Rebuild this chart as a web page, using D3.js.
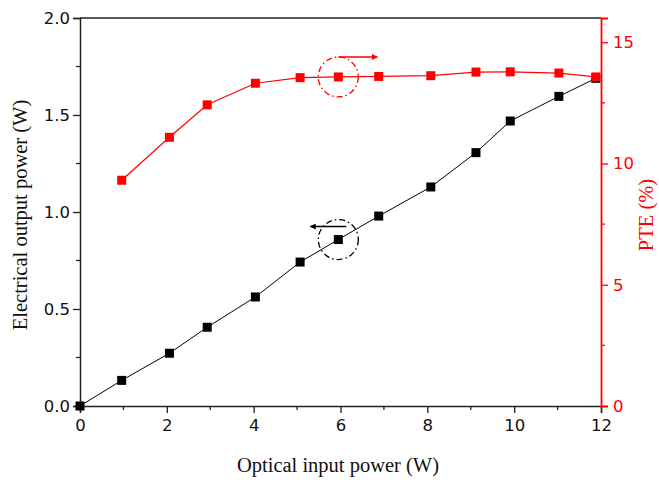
<!DOCTYPE html>
<html>
<head>
<meta charset="utf-8">
<script src="https://cdn.jsdelivr.net/npm/d3@7"></script>
<style>
  html, body { margin: 0; padding: 0; background: #fff; }
  svg { display: block; }
</style>
</head>
<body>
<svg id="chart" width="659" height="480"></svg>
<script>
// ---- data ----
const inputPower = [0.96, 2.06, 2.93, 4.04, 5.07, 5.95, 6.88, 8.08, 9.12, 9.91, 11.03, 11.88];
const outputX = [0, 0.96, 2.06, 2.93, 4.04, 5.07, 5.95, 6.88, 8.08, 9.12, 9.91, 11.03, 11.88];
const outputPower = [0, 0.132, 0.272, 0.406, 0.562, 0.742, 0.858, 0.979, 1.129, 1.306, 1.469, 1.596, 1.689];
const pteValues = [9.31, 11.08, 12.42, 13.31, 13.54, 13.57, 13.59, 13.62, 13.77, 13.78, 13.73, 13.57];
const xTicks = [0, 2, 4, 6, 8, 10, 12];
const xMinor = [1, 3, 5, 7, 9, 11];
const yLeftTicks = [0, 0.5, 1.0, 1.5, 2.0];
const yLeftMinor = [0.25, 0.75, 1.25, 1.75];
const yRightTicks = [0, 5, 10, 15];
const yRightMinor = [2.5, 7.5, 12.5];

// ---- layout ----
const L = 80, R = 601, T = 18, B = 406;
const svg = d3.select("#chart");
const x = d3.scaleLinear().domain([0, 12]).range([L, R]);
const yL = d3.scaleLinear().domain([0, 2]).range([B, T]);
const yR = d3.scaleLinear().domain([0, 16]).range([B, T]);

const tickFont = "'DejaVu Sans', sans-serif";
const titleFont = "'Liberation Serif', 'Times New Roman', serif";
const RED = "#ff0000";

// top border
svg.append("line").attr("x1", L).attr("x2", R).attr("y1", T).attr("y2", T)
  .attr("stroke", "#222").attr("stroke-width", 1.5);

// bottom axis
const gx = svg.append("g").attr("transform", `translate(0,${B})`)
  .call(d3.axisBottom(x).tickValues(xTicks).tickFormat(d3.format("d")).tickSize(7).tickPadding(6));
gx.append("g").selectAll("line").data(xMinor).join("line")
  .attr("x1", d => x(d)).attr("x2", d => x(d)).attr("y1", 0).attr("y2", 4)
  .attr("stroke", "#222").attr("stroke-width", 1.3);

// left axis
const gy = svg.append("g").attr("transform", `translate(${L},0)`)
  .call(d3.axisLeft(yL).tickValues(yLeftTicks).tickFormat(d3.format(".1f")).tickSize(7).tickPadding(3));
gy.append("g").selectAll("line").data(yLeftMinor).join("line")
  .attr("x1", 0).attr("x2", -4).attr("y1", d => yL(d)).attr("y2", d => yL(d))
  .attr("stroke", "#222").attr("stroke-width", 1.3);

[gx, gy].forEach(g => {
  g.select(".domain").attr("stroke", "#222").attr("stroke-width", 1.5);
  g.selectAll(".tick line").attr("stroke", "#222").attr("stroke-width", 1.3);
  g.selectAll(".tick text").attr("font-family", tickFont).attr("font-size", 16.5).attr("fill", "#111");
});

// right axis
const gr = svg.append("g").attr("transform", `translate(${R},0)`)
  .call(d3.axisRight(yR).tickValues(yRightTicks).tickFormat(d3.format("d")).tickSize(7).tickPadding(5));
gr.append("g").selectAll("line").data(yRightMinor).join("line")
  .attr("x1", 0).attr("x2", 4).attr("y1", d => yR(d)).attr("y2", d => yR(d))
  .attr("stroke", RED).attr("stroke-width", 1.3);
gr.select(".domain").attr("stroke", RED).attr("stroke-width", 1.8);
gr.selectAll(".tick line").attr("stroke", RED).attr("stroke-width", 1.3);
gr.selectAll(".tick text").attr("font-family", tickFont).attr("font-size", 16.5).attr("fill", RED);

// titles
svg.append("text").attr("x", 338).attr("y", 472)
  .attr("text-anchor", "middle").attr("font-family", titleFont).attr("font-size", 20.5).attr("fill", "#111")
  .text("Optical input power (W)");
svg.append("text").attr("transform", `translate(27,${(T + B) / 2 + 3}) rotate(-90)`)
  .attr("text-anchor", "middle").attr("font-family", titleFont).attr("font-size", 20.5).attr("fill", "#111")
  .text("Electrical output power (W)");
svg.append("text").attr("transform", `translate(653,${(T + B) / 2 + 3}) rotate(-90)`)
  .attr("text-anchor", "middle").attr("font-family", titleFont).attr("font-size", 20.5).attr("fill", RED)
  .text("PTE (%)");

// black series
const blackData = outputX.map((d, i) => [d, outputPower[i]]);
svg.append("path").datum(blackData)
  .attr("d", d3.line().x(d => x(d[0])).y(d => yL(d[1])))
  .attr("fill", "none").attr("stroke", "#000").attr("stroke-width", 1);
svg.append("g").selectAll("rect").data(blackData).join("rect")
  .attr("x", d => x(d[0]) - 4.5).attr("y", d => yL(d[1]) - 4.5)
  .attr("width", 9).attr("height", 9).attr("fill", "#000");

// red series
const redData = inputPower.map((d, i) => [d, pteValues[i]]);
svg.append("path").datum(redData)
  .attr("d", d3.line().x(d => x(d[0])).y(d => yR(d[1])))
  .attr("fill", "none").attr("stroke", RED).attr("stroke-width", 1.2);
svg.append("g").selectAll("rect").data(redData).join("rect")
  .attr("x", d => x(d[0]) - 4.5).attr("y", d => yR(d[1]) - 4.5)
  .attr("width", 9).attr("height", 9).attr("fill", RED);

// annotations: dash-dot circles with arrows
const defs = svg.append("defs");
[["arrRed", RED], ["arrBlack", "#000"]].forEach(([id, c]) => {
  defs.append("marker").attr("id", id).attr("viewBox", "0 0 10 10")
    .attr("refX", 9).attr("refY", 5).attr("markerWidth", 7).attr("markerHeight", 6)
    .attr("markerUnits", "userSpaceOnUse").attr("orient", "auto")
    .append("path").attr("d", "M0,0 L10,5 L0,10 Z").attr("fill", c);
});
const rc = [x(inputPower[5]), yR(pteValues[5])];
svg.append("circle").attr("cx", rc[0]).attr("cy", rc[1]).attr("r", 20)
  .attr("fill", "none").attr("stroke", RED).attr("stroke-width", 1.3).attr("stroke-dasharray", "6,3,1.5,3");
svg.append("line").attr("x1", rc[0]).attr("y1", rc[1] - 20).attr("x2", rc[0] + 39).attr("y2", rc[1] - 20)
  .attr("stroke", RED).attr("stroke-width", 1.5).attr("marker-end", "url(#arrRed)");
const bc = [x(outputX[6]), yL(outputPower[6])];
svg.append("circle").attr("cx", bc[0]).attr("cy", bc[1]).attr("r", 20)
  .attr("fill", "none").attr("stroke", "#000").attr("stroke-width", 1.3).attr("stroke-dasharray", "6,3,1.5,3");
svg.append("line").attr("x1", bc[0] + 8).attr("y1", bc[1] - 13).attr("x2", bc[0] - 28).attr("y2", bc[1] - 13)
  .attr("stroke", "#000").attr("stroke-width", 1.5).attr("marker-end", "url(#arrBlack)");
</script>
</body>
</html>
